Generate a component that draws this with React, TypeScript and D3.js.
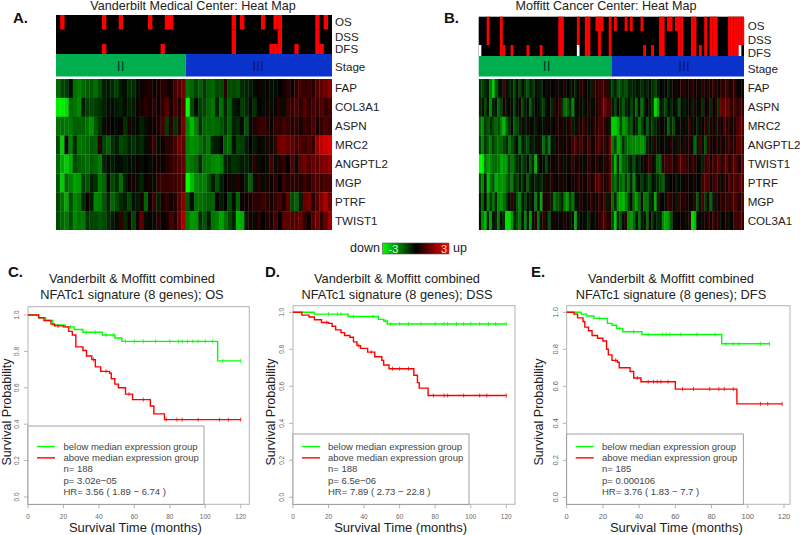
import * as React from 'react';
import * as d3 from 'd3';

// heat map values are stored in tenths of a z-score (-30..30)
const vanderbiltGenes = ['FAP', 'COL3A1', 'ASPN', 'MRC2', 'ANGPTL2', 'MGP', 'PTRF', 'TWIST1'];
const vFAP = [-12,-8,-7,-1,-13,-15,-12,-11,-10,-13,-9,-4,-3,-5,-8,-3,-2,-6,-5,-2,2,3,4,2,3,5,4,2,8,10,13,
  -13,-12,-8,-11,-7,-11,-12,-8,-9,5,-9,-9,-10,-5,-4,-3,-1,1,-1,2,-1,-2,0,3,5,2,6,8,6,7,4,10,11,13,16];
const vCOL3A1 = [-28,-28,-26,-12,-14,-16,-3,-7,-8,-7,-6,-4,-2,-1,-3,-4,-1,-4,-3,1,3,5,3,5,2,6,10,3,8,4,11,
  -30,-9,-1,-7,-8,-12,-14,-4,-13,-4,-11,-3,-2,-7,-5,-1,-6,0,-1,3,-1,2,4,-1,7,6,9,5,10,5,8,7,9,6,8];
const vASPN = [-13,-13,-14,-14,-11,-11,-11,-13,-17,-10,-6,-1,1,0,-1,2,-6,3,-1,1,-4,-2,2,1,4,8,-7,5,-6,5,14,
  -16,-22,-15,-6,-12,-12,-13,-12,-10,-6,-11,-4,-5,-2,-10,-1,4,6,7,4,2,6,5,8,7,4,6,3,7,5,9,3,6,9,7];
const vMRC2 = [-9,-24,-2,-15,-5,-14,-13,-12,-10,-11,4,-8,-11,-6,-3,-9,-7,-4,-6,-3,-5,-2,3,7,-2,2,5,5,8,13,11,
  -15,-17,-16,-13,-10,-14,-4,-3,0,-11,-13,-1,-8,-7,-3,0,-3,2,-1,4,-1,6,13,14,12,11,8,9,7,10,6,18,22,24,26];
const vANGPTL2 = [-12,-20,-24,-20,-9,-11,-12,-13,-10,-12,-15,-4,-2,-3,-2,-1,-3,-1,-2,1,-2,0,-1,2,3,1,4,6,7,9,11,
  -15,-14,-12,-5,-13,-14,-16,-17,-15,-4,-3,-6,-5,-3,-4,-2,5,-1,2,-1,8,-2,4,6,0,10,-1,11,13,9,12,11,14,15,17];
const vMGP = [-10,-24,-12,-15,-19,-18,-7,-10,-3,-6,-14,-12,-2,-9,-5,-13,-3,1,3,-1,-4,1,3,-1,6,7,6,7,7,8,9,
  -30,-22,-16,-14,-15,-10,-3,-10,-3,0,3,-2,4,2,-4,-11,-1,5,-2,3,1,5,0,7,4,5,5,4,7,4,8,9,7,8,9];
const vPTRF = [-8,-13,-20,-9,-16,-14,-5,2,-3,-16,-15,-10,-4,-12,-9,-5,-3,-8,-1,-3,3,-12,2,7,-4,3,6,2,4,10,16,
  -10,-1,-13,-13,-12,-11,-12,1,-3,0,-9,-2,-12,1,2,3,6,5,7,5,3,6,8,4,11,-9,-12,-3,12,14,4,10,15,20,13];
const vTWIST1 = [-9,-12,-14,-9,-16,-13,-14,-6,-8,-8,-10,-9,-5,-3,-2,6,-5,2,-8,3,11,-1,2,-1,5,1,3,8,4,12,20,
  -14,-18,-17,-6,-10,-3,-14,-15,-19,-13,-8,-4,-22,-20,-3,3,-1,5,0,4,3,8,0,10,11,9,10,12,6,2,10,13,5,12,18];

const moffittGenes = ['FAP', 'ASPN', 'MRC2', 'ANGPTL2', 'TWIST1', 'PTRF', 'MGP', 'COL3A1'];
const mFAP = [-6,-8,-5,-3,-14,-24,-10,-3,-2,8,-1,-4,-3,-9,-2,-8,-1,-6,-10,-3,-7,-1,-3,-5,0,-2,2,0,2,3,-1,2,4,0,-3,3,-5,2,4,5,0,-2,-3,6,5,7,8,6,5,-3,
  -8,-4,-10,-9,-7,-10,-3,-5,-4,-2,-3,-6,-1,-5,-2,-6,-8,-3,0,-1,1,-5,-1,2,3,2,4,5,1,3,6,2,3,-1,5,3,6,2,7,3,2,6,4,8,3,5,7,2,1,-1];
const mASPN = [-5,-2,-9,-1,-16,-4,-2,-12,-8,3,-3,2,-2,-8,-1,3,-9,-3,-2,-11,-4,1,-1,-5,-7,-1,2,-5,6,1,6,-6,-13,-11,-4,-16,-2,3,-1,-3,2,5,-2,3,4,6,10,14,9,8,
  -3,-9,2,-6,-11,-4,-2,-8,-3,-12,-2,-14,-4,1,-3,-6,-26,-20,-1,-5,-8,-1,-5,-1,-2,-10,-1,-3,-1,2,-4,4,-1,3,-6,1,3,-5,2,5,-6,11,12,12,10,4,9,5,8,6];
const mMRC2 = [-12,-16,-7,-10,-5,-9,-12,-8,-16,-22,-12,-6,-2,-11,-8,-4,4,-3,-1,3,-1,-3,2,-2,-1,3,1,-1,0,5,2,4,-1,3,6,-3,-1,5,3,7,4,-1,2,6,3,9,8,5,3,-4,
  -24,-24,-20,-8,-18,-16,-8,-11,-1,-4,-14,-9,1,-11,-3,-8,-5,-2,-1,3,-2,-12,-4,-9,2,-2,-1,3,-2,6,-2,2,-4,-1,1,6,-4,4,3,-3,5,2,9,4,6,-1,5,8,12,10];
const mANGPTL2 = [-8,-15,-6,-10,-14,-7,-11,-13,-12,-8,-4,-14,-9,-5,-1,-14,-3,-6,-9,-2,-4,-1,3,-3,-13,-4,-15,-2,-3,1,4,-1,1,5,2,7,10,4,8,6,2,9,4,3,7,11,4,7,3,14,
  -14,-8,-20,-16,-6,-12,-14,-16,-15,-17,-16,-18,-15,-4,-2,-3,5,-2,-1,3,-2,1,5,-1,4,-3,2,6,-1,5,-2,-13,-3,8,-1,-10,6,3,2,5,-1,5,-2,6,8,3,5,10,11,8];
const mTWIST1 = [-30,-28,-14,-18,-16,-13,-12,-14,-20,-18,-17,-8,-14,-10,-5,-3,-9,-6,-2,-11,-4,-21,-3,1,-2,-9,-1,3,2,-1,5,-2,-2,3,-1,7,2,4,1,-1,3,6,4,2,5,3,-1,5,4,10,
  -9,-22,-4,-18,-11,-10,-6,-3,-10,-2,-5,-1,1,4,7,3,-3,-12,-12,5,7,6,8,3,4,9,10,7,6,3,7,5,1,-1,-4,6,10,3,9,7,11,5,8,12,4,9,11,7,3,12];
const mPTRF = [-9,-16,-3,-22,-14,-10,-20,-16,-18,-17,-12,-8,-15,-4,-9,-3,-7,-1,-11,-3,-1,-5,-2,-6,-1,4,-1,5,2,0,4,-1,3,1,0,3,2,7,1,4,2,8,3,6,9,12,5,3,5,11,
  -10,-14,-6,-12,-15,-6,-13,-4,-16,-3,-2,-7,-2,-6,-9,-1,-3,-5,-9,-12,-1,-2,0,2,-4,0,-2,1,3,1,-1,3,0,-1,7,11,8,3,5,9,4,-1,6,3,11,5,10,7,12,9];
const mMGP = [-3,-12,-1,-16,-6,-14,-4,-16,-18,-13,-7,-2,5,-1,-10,-15,-3,-8,-2,-4,1,-15,-2,-20,4,-2,5,-3,-14,-10,-8,-4,-15,-18,-6,-14,-2,-1,5,1,-2,3,7,2,-1,8,3,9,-3,4,
  -13,-4,-17,-20,-22,-16,-8,-2,-13,-18,-12,-2,-14,-14,-5,-1,-20,-4,3,0,-2,8,5,2,-3,7,4,5,3,2,-1,6,-10,-2,9,-7,4,-12,-3,5,2,6,4,7,5,8,10,7,4,9];
const mCOL3A1 = [-1,-16,-22,-3,-18,-1,-4,-14,-2,-5,-26,-26,-18,-4,-9,-14,1,-16,-3,-18,-2,4,-14,-1,6,-2,-10,-2,3,1,-1,3,4,1,-3,3,-20,-2,2,-2,-1,-6,2,-1,1,5,8,9,5,4,
  -8,-24,-3,-10,-2,5,-16,-18,-12,-1,-14,-3,-1,-13,2,-7,-2,-5,-3,-16,-20,-18,-10,-1,2,0,1,3,-1,4,-26,-22,-1,1,-1,3,6,2,8,3,5,-1,2,4,-2,0,8,7,9,6];

// sample index of each event on the clinical tracks
const vOS = [1,11,15,22,26,27,42,44,49,52,53,62,64];
const vDSS = [42,53,62];
const vDFS = [11,25,42,51,52,53,57,62,63];
const mOS = [3,8,30,31,37,40,41,44,45,46,49,51,55,57,61,68,69,71,72,74,75,76,80,81,85,87,88,89,94,95,96,97,98,99];
const mDSS = [3,8,30,31,37,40,41,45,49,68,69,75,76,80,81,85,87,88,89,94,95,96,97,98,99];
const mDFS = [8,9,12,18,23,30,31,40,41,45,49,62,65,68,69,75,76,80,81,83,85,87,88,89,94,95,96,97];
const mDFSmissing = [0,37,98];

// survival curves: [months, probability]
const cGreen = [[0,1],[6,.985],[10,.97],[14,.945],[21,.935],[26,.92],[31,.905],[42,.89],[44,.89],[49,.874],[53,.855],[107,.748],[120,.748]];
const cRed = [[0,1],[6,.985],[9,.97],[13,.95],[15,.94],[20,.935],[23,.91],[25,.89],[27,.825],[31,.805],[33,.775],[36,.755],[38,.715],[41,.69],[46,.68],[47,.65],[49,.62],[51,.6],[55,.565],[59,.535],[69,.5],[71,.457],[77,.425],[120,.425]];
const cGreenCens = [15,24,33,38,44,48,55,60,65,72,80,85,87,90,93,96,100,104,110,120];
const cRedCens = [17,37,44,57,65,78,84,87,96,108,113,120];
const dGreen = [[0,1],[12,.99],[31,.977],[48,.962],[51,.953],[53,.937],[120,.937]];
const dRed = [[0,1],[5,.985],[9,.975],[12,.96],[16,.945],[20,.94],[22,.925],[24,.905],[27,.89],[29,.875],[32,.865],[34,.84],[36,.82],[38,.805],[42,.785],[46,.76],[50,.74],[51,.715],[54,.695],[68,.66],[70,.62],[71,.59],[76,.55],[120,.55]];
const dGreenCens = [20,25,27,34,45,52,55,60,65,72,80,85,87,92,96,100,105,110,114,120];
const dRedCens = [19,37,44,56,60,65,79,85,87,96,105,109,120];
const eGreen = [[0,1],[8,.99],[11,.98],[15,.967],[22.5,.94],[25,.93],[27.5,.913],[31,.895],[41.5,.88],[85.6,.83],[112,.83]];
const eRed = [[0,1],[4,.99],[6,.97],[9,.95],[10,.92],[12,.9],[14,.875],[17,.86],[20,.845],[22,.8],[23,.77],[25,.74],[28,.73],[29,.7],[35,.68],[37,.645],[41,.625],[60,.585],[94,.505],[119,.505]];
const eGreenCens = [18,29,37,45,53,55,57,63,72,82,88,92,95,107,112];
const eRedCens = [27,39,45,48,50,52,56,64,70,79,84,87,92,107,111,119];

const xTicks = [0, 20, 40, 60, 80, 100, 120];
const yTicks = [0, 0.2, 0.4, 0.6, 0.8, 1];
const FONT = '"Liberation Sans", Arial, sans-serif';

const heat = d3.scaleLinear<string>().domain([-3, 0, 3]).range(['#00ff00', '#000000', '#ff0000']).clamp(true);

function HeatPanel({ id, title, titleX, letter, letterX, left, right, nII, genes, rows, tracks, missing, trackTop, stageTop, labelX, labelDy, iiX, iiiX }: any) {
  const n = rows[0].length;
  const x = d3.scaleBand<number>().domain(d3.range(n)).range([left, right]);
  const y = d3.scaleBand<string>().domain(genes).range([79, 230]);
  const trackY = d3.scaleLinear().domain([0, 1, 2, 3]).range(trackTop);
  const trackNames = ['OS', 'DSS', 'DFS'];
  const w = x.bandwidth();
  const stageX = x(nII) as number;
  return (
    <g fontFamily={FONT}>
      <defs>
        <clipPath id={`${id}-heat`}><rect x={left} y={79} width={right - left} height={151} /></clipPath>
        <filter id={`${id}-soft`} x="0" y="0" width="1" height="1"><feGaussianBlur stdDeviation="0.5 0.3" /></filter>
      </defs>
      <text x={titleX} y={10} textAnchor="middle" fontSize={12.6} fill="#222">{title}</text>
      <text x={letterX} y={23} fontSize={15} fontWeight="bold" fill="#111">{letter}</text>
      <g filter={`url(#${id}-soft)`}>
        <rect x={left} y={trackY(0)} width={right - left} height={trackY(3) - trackY(0)} fill="#000" />
        {tracks.map((events: number[], t: number) => events.map(i => (
          <rect key={`${t}-${i}`} x={x(i)} y={trackY(t)} width={w + 0.2} height={trackY(t + 1) - trackY(t)} fill="#ff0000" />
        )))}
        {missing.map((i: number) => (
          <rect key={i} x={x(i)} y={trackY(2)} width={w} height={trackY(3) - trackY(2)} fill="#fff" />
        ))}
      </g>
      <rect x={left} y={stageTop} width={stageX - left} height={76.5 - stageTop} fill="#00ae50" />
      <rect x={stageX} y={stageTop} width={right - stageX} height={76.5 - stageTop} fill="#0a33cc" />
      <text x={iiX} y={71} textAnchor="middle" fontSize={14} fill="#0c3a25">II</text>
      <text x={iiiX} y={71} textAnchor="middle" fontSize={14} fill="#0a1a60">III</text>
      <g clipPath={`url(#${id}-heat)`}>
        <g filter={`url(#${id}-soft)`}>
          {rows.map((row: number[], r: number) => row.map((v, i) => (
            <rect key={`${r}-${i}`} x={x(i)} y={y(genes[r])} width={w + 0.3} height={y.bandwidth() + 0.2} fill={heat(v / 10)} />
          )))}
        </g>
      </g>
      {trackNames.map((name, t) => (
        <text key={name} x={labelX} y={(trackY(t) + trackY(t + 1)) / 2 + 4 + labelDy} fontSize={11.6} fill="#222">{name}</text>
      ))}
      <text x={labelX} y={71 + labelDy} fontSize={11.6} fill="#222">Stage</text>
      {genes.map((g: string) => (
        <text key={g} x={labelX} y={(y(g) as number) + y.bandwidth() / 2 + 4} fontSize={11.6} fill="#222">{g}</text>
      ))}
    </g>
  );
}

function KmPanel({ letter, letterX, subtitle, titleX, left, x120, boxRight, boxTop, boxBottom, y1, y0, green, red, greenCens, redCens, legendRight, legendTop, info, ylabelX, textLeft, tickSize }: any) {
  const x = d3.scaleLinear().domain([0, 120]).range([left, x120]);
  const y = d3.scaleLinear().domain([0, 1]).range([y0, y1]);
  const line = d3.line<number[]>().x(d => x(d[0])).y(d => y(d[1])).curve(d3.curveStepAfter);
  // survival value at time t, for the censor ticks
  const at = (curve: number[][], t: number) => curve[d3.bisectRight(curve.map(d => d[0]), t) - 1][1];
  const curves = [
    { pts: green, cens: greenCens, color: '#00ff00' },
    { pts: red, cens: redCens, color: '#ff0000' },
  ];
  const legendY = d3.scaleLinear().domain([0, 4]).range([449.5, 495]);
  const midX = (left + x120) / 2;
  return (
    <g fontFamily={FONT}>
      <text x={letterX} y={277} fontSize={15} fontWeight="bold" fill="#111">{letter}</text>
      <text x={titleX} y={283} textAnchor="middle" fontSize={12.8} fill="#222">Vanderbilt &amp; Moffitt combined</text>
      <text x={titleX} y={298.5} textAnchor="middle" fontSize={12.8} fill="#222">{subtitle}</text>
      <rect x={left} y={boxTop} width={boxRight - left} height={boxBottom - boxTop} fill="none" stroke="#b4b4b4" strokeWidth={1} />
      {xTicks.map(t => (
        <g key={t}>
          <line x1={x(t)} x2={x(t)} y1={boxBottom} y2={boxBottom + 4} stroke="#b4b4b4" />
          <text x={x(t)} y={boxBottom + 14.5} textAnchor="middle" fontSize={tickSize} fill="#666">{t}</text>
        </g>
      ))}
      {yTicks.map(t => (
        <g key={t}>
          <line x1={left - 4} x2={left} y1={y(t)} y2={y(t)} stroke="#b4b4b4" />
          <text transform={`translate(${left - 9},${y(t)}) rotate(-90)`} textAnchor="middle" fontSize={tickSize} fill="#666">{t.toFixed(1)}</text>
        </g>
      ))}
      <text x={midX + 1} y={531.5} textAnchor="middle" fontSize={13} fill="#222">Survival Time (months)</text>
      <text transform={`translate(${ylabelX},412) rotate(-90)`} textAnchor="middle" fontSize={12.6} fill="#222">Survival Probability</text>
      {curves.map(c => (
        <g key={c.color}>
          <path d={line(c.pts) as string} fill="none" stroke={c.color} strokeWidth={1.4} />
          {c.cens.map((t: number) => (
            <line key={t} x1={x(t)} x2={x(t)} y1={y(at(c.pts, t)) - 2} y2={y(at(c.pts, t)) + 2} stroke={c.color} strokeWidth={0.8} />
          ))}
        </g>
      ))}
      <rect x={left} y={legendTop} width={legendRight - left} height={boxBottom - legendTop} fill="#fff" stroke="#888" strokeWidth={0.8} />
      <line x1={left + 9} x2={left + 27} y1={legendY(0) - 3} y2={legendY(0) - 3} stroke="#00ff00" strokeWidth={1.4} />
      <line x1={left + 9} x2={left + 27} y1={legendY(1) - 3} y2={legendY(1) - 3} stroke="#ff0000" strokeWidth={1.4} />
      {['below median expression group', 'above median expression group', ...info].map((s: string, i: number) => (
        <text key={s} x={textLeft} y={legendY(i)} fontSize={9.5} fill="#444">{s}</text>
      ))}
    </g>
  );
}

export default function App() {
  const keyX = d3.scaleLinear().domain([-3, 3]).range([382.5, 449]);
  return (
    <svg width={800} height={535} style={{ position: 'absolute', left: 0, top: 0, background: '#fff' }}>
      <HeatPanel id="a" title="Vanderbilt Medical Center: Heat Map" titleX={193} letter="A." letterX={13}
        left={56} right={332} nII={31} genes={vanderbiltGenes}
        rows={[vFAP, vCOL3A1, vASPN, vMRC2, vANGPTL2, vMGP, vPTRF, vTWIST1]}
        tracks={[vOS, vDSS, vDFS]} missing={[]} trackTop={[15, 29.5, 44, 54]} stageTop={54}
        labelX={335} labelDy={0} iiX={120.7} iiiX={258} />
      <HeatPanel id="b" title="Moffitt Cancer Center: Heat Map" titleX={606} letter="B." letterX={444}
        left={478.7} right={744} nII={50} genes={moffittGenes}
        rows={[mFAP, mASPN, mMRC2, mANGPTL2, mTWIST1, mPTRF, mMGP, mCOL3A1]}
        tracks={[mOS, mDSS, mDFS]} missing={mDFSmissing} trackTop={[16.7, 31, 45, 56]} stageTop={56}
        labelX={747.7} labelDy={2} iiX={546.7} iiiX={684} />

      <g fontFamily={FONT}>
        <defs>
          <linearGradient id="key">
            {[-3, -1.5, 0, 1.5, 3].map(v => (
              <stop key={v} offset={`${((v + 3) / 6) * 100}%`} stopColor={heat(v)} />
            ))}
          </linearGradient>
        </defs>
        <rect x={keyX(-3)} y={243} width={keyX(3) - keyX(-3)} height={11} fill="url(#key)" stroke="#555" strokeWidth={0.6} />
        <text x={380} y={251.5} textAnchor="end" fontSize={12.5} fill="#222">down</text>
        <text x={453} y={251.5} fontSize={12.5} fill="#222">up</text>
        <text x={keyX(-3) + 6} y={252.5} fontSize={11} fill="#dfe">-3</text>
        <text x={keyX(3) - 8} y={252.5} fontSize={11} fill="#fdd">3</text>
      </g>

      <KmPanel letter="C." letterX={8} subtitle="NFATc1 signature (8 genes); OS" titleX={132}
        left={28} x120={240.7} boxRight={249.3} boxTop={306.7} boxBottom={504.3} y1={315} y0={497}
        green={cGreen} red={cRed} greenCens={cGreenCens} redCens={cRedCens} tickSize={6.5}
        legendRight={204} legendTop={426} ylabelX={11} textLeft={63.5}
        info={['n= 188', 'p= 3.02e\u221205', 'HR= 3.56 ( 1.89 \u2212 6.74 )']} />
      <KmPanel letter="D." letterX={265} subtitle="NFATc1 signature (8 genes); DSS" titleX={397}
        left={293} x120={506.3} boxRight={515} boxTop={305.7} boxBottom={504.3} y1={312.3} y0={497.3}
        green={dGreen} red={dRed} greenCens={dGreenCens} redCens={dRedCens} tickSize={6.5}
        legendRight={469} legendTop={434} ylabelX={275} textLeft={328}
        info={['n= 188', 'p= 6.5e\u221206', 'HR= 7.89 ( 2.73 \u2212 22.8 )']} />
      <KmPanel letter="E." letterX={531} subtitle="NFATc1 signature (8 genes); DFS" titleX={671}
        left={566.7} x120={784} boxRight={790} boxTop={305.7} boxBottom={504.3} y1={312.3} y0={497.3}
        green={eGreen} red={eRed} greenCens={eGreenCens} redCens={eRedCens} tickSize={7.5}
        legendRight={743.3} legendTop={434} ylabelX={543} textLeft={602}
        info={['n= 185', 'p= 0.000106', 'HR= 3.76 ( 1.83 \u2212 7.7 )']} />
    </svg>
  );
}
